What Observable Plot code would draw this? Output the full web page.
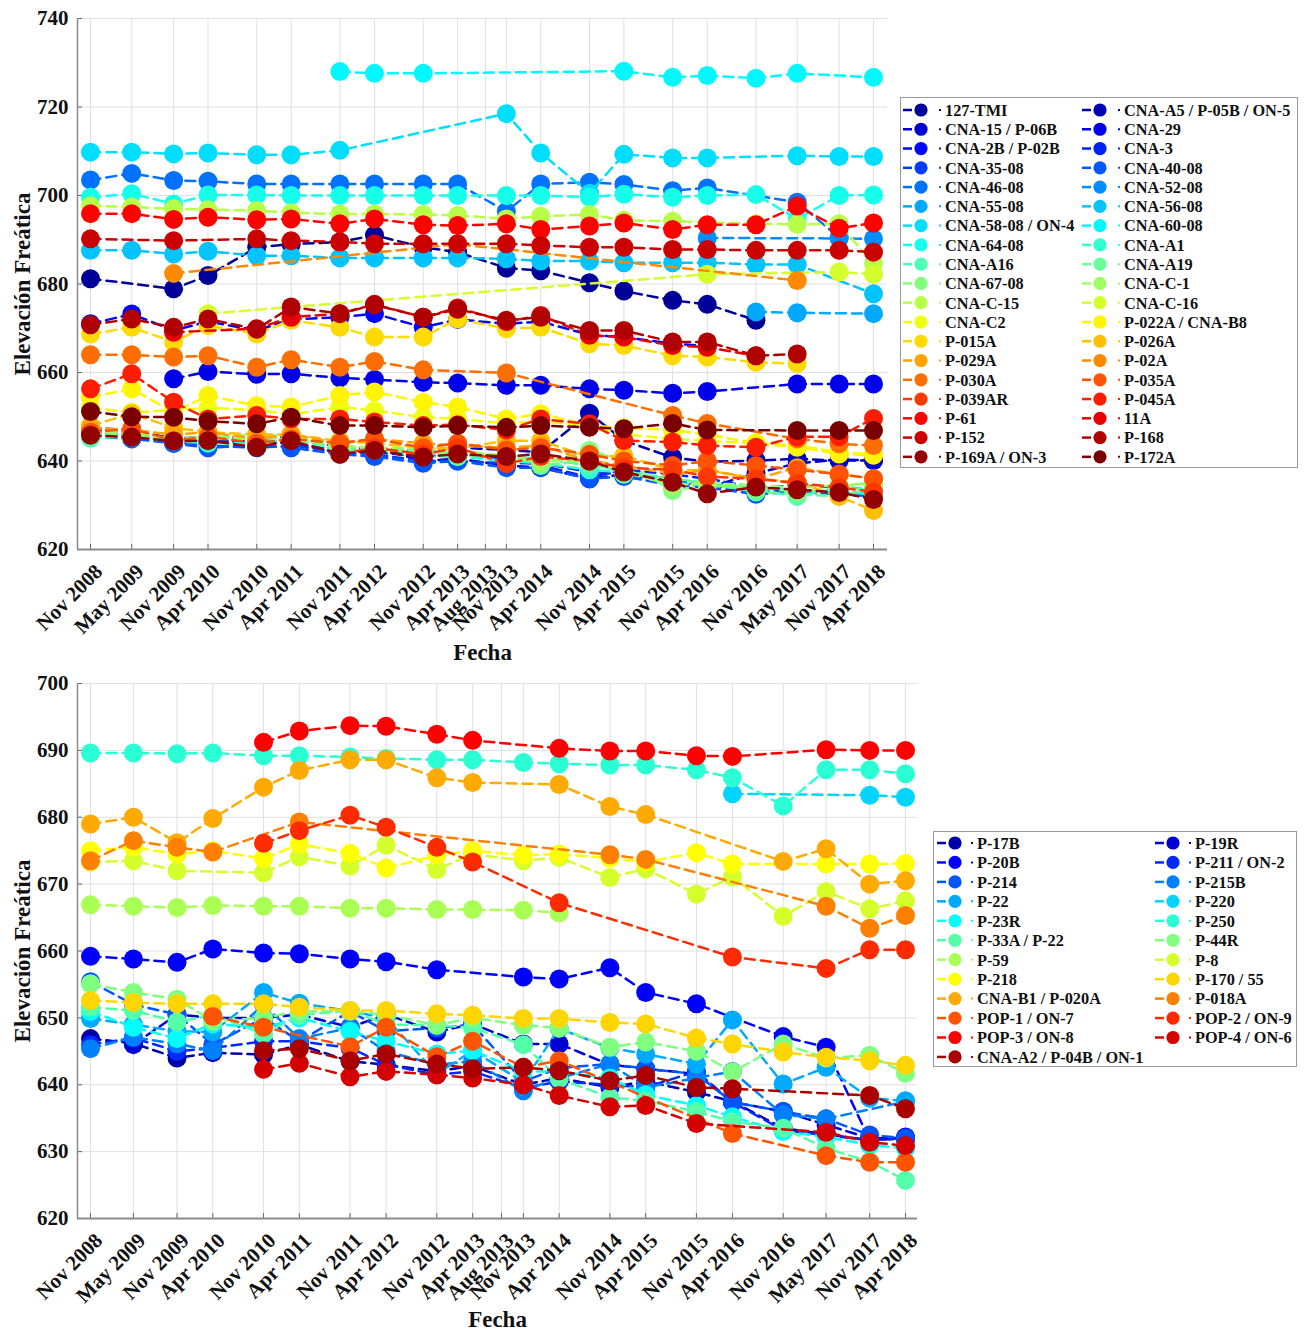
<!DOCTYPE html>
<html><head><meta charset="utf-8">
<script src="https://cdn.jsdelivr.net/npm/d3@7"></script>
<script src="https://cdn.jsdelivr.net/npm/@observablehq/plot@0.6"></script>
<style>
body{margin:0;background:#fff;}
#page{position:relative;width:1305px;height:1333px;overflow:hidden;background:#fff;}
.legend{position:absolute;border:1.5px solid #9a9a9a;background:#fff;box-sizing:border-box;}
.legend svg{display:block;position:absolute;left:-1.5px;top:-1.5px;overflow:visible;}
</style></head><body><div id="page"></div>
<script>
const N = null;
const FONT = "'Liberation Serif','Times New Roman',serif";

// ---------- axes ----------
const dateLabels = ["Nov 2008","May 2009","Nov 2009","Apr 2010","Nov 2010","Apr 2011","Nov 2011","Apr 2012","Nov 2012","Apr 2013","Aug 2013","Nov 2013","Apr 2014","Nov 2014","Apr 2015","Nov 2015","Apr 2016","Nov 2016","May 2017","Nov 2017","Apr 2018"];
const topYTicks = [620,640,660,680,700,720,740];
const bottomYTicks = [620,630,640,650,660,670,680,690,700];

// ---------- top panel ----------
const topNames = ["127-TMI","CNA-A5 / P-05B / ON-5","CNA-15 / P-06B","CNA-29","CNA-2B / P-02B","CNA-3","CNA-35-08","CNA-40-08","CNA-46-08","CNA-52-08","CNA-55-08","CNA-56-08","CNA-58-08 / ON-4","CNA-60-08","CNA-64-08","CNA-A1","CNA-A16","CNA-A19","CNA-67-08","CNA-C-1","CNA-C-15","CNA-C-16","CNA-C2","P-022A / CNA-B8","P-015A","P-026A","P-029A","P-02A","P-030A","P-035A","P-039AR","P-045A","P-61","11A","P-152","P-168","P-169A / ON-3","P-172A"];
const t127TMI   = [681.2,N,678.9,681.9,688.3,689.0,689.5,691.0,688.3,687.2,N,683.6,683.0,680.3,678.4,676.3,675.4,671.8,N,N,N];
const tCNAA5    = [647.5,647.0,645.0,645.5,645.0,645.5,643.0,643.0,642.0,643.0,N,642.5,642.0,650.8,644.6,640.8,639.8,640.1,640.5,640.1,640.1];
const tCNA15    = [647.0,646.5,644.5,644.5,644.5,644.0,642.0,643.0,640.0,640.5,N,639.0,638.5,636.0,637.0,636.0,634.0,637.2,639.5,640.3,640.2];
const tCNA29    = [N,N,658.6,660.2,659.6,659.7,658.8,658.4,657.8,657.6,N,657.1,657.1,656.3,656.0,655.3,655.7,N,657.4,657.4,657.4];
const tCNA2B    = [671.0,673.2,669.5,671.5,669.5,672.0,672.5,673.3,670.2,672.0,N,671.0,671.5,668.5,668.0,666.5,666.0,N,N,N,N];
const tCNA3     = [646.5,646.0,644.0,644.0,644.5,644.0,642.5,642.0,641.0,641.5,N,640.5,639.0,636.3,638.0,637.0,636.0,634.0,634.5,634.0,633.5];
const tCNA35    = [646.0,645.5,644.5,643.5,643.0,643.5,642.0,641.5,640.0,640.0,N,639.5,639.5,637.5,637.0,635.0,634.5,633.0,633.5,633.0,632.5];
const tCNA40    = [645.5,645.0,644.0,643.0,643.5,643.0,641.5,641.0,639.5,640.0,N,638.5,638.5,636.0,636.5,634.5,634.0,632.5,633.0,632.5,632.0];
const tCNA46    = [703.5,705.0,703.4,703.2,702.6,702.6,702.6,702.6,702.6,702.6,N,696.4,702.6,703.0,702.5,701.1,701.7,N,698.5,690.5,N];
const tCNA52    = [N,N,N,N,N,N,N,N,N,N,N,N,N,N,N,N,690.4,N,N,690.3,690.2];
const tCNA55    = [N,N,N,N,N,N,N,N,N,N,N,N,N,N,N,N,N,673.7,673.5,N,673.3];
const tCNA56    = [687.6,687.6,686.8,687.4,686.4,686.4,685.9,685.9,685.9,685.9,N,685.7,685.2,685.2,684.8,684.8,684.8,684.4,684.4,N,677.8];
const tCNA58    = [709.8,709.8,709.4,709.6,709.2,709.2,710.2,N,N,N,N,718.5,709.6,700.5,709.3,708.5,708.5,N,709.0,708.8,708.8];
const tCNA60    = [N,N,N,N,N,N,728.0,727.6,727.6,N,N,N,N,N,728.1,726.7,727.1,726.5,727.6,N,726.7];
const tCNA64    = [699.6,700.4,698.1,700.1,700.1,700.0,700.0,700.0,700.0,700.0,N,700.0,700.0,699.6,700.3,699.6,700.0,700.2,694.7,700.0,700.1];
const tCNAA1    = [645.2,645.5,644.5,644.0,644.0,645.0,642.5,642.5,641.0,641.0,N,640.0,639.5,638.0,637.5,636.0,635.0,634.0,633.5,633.0,632.5];
const tCNAA16   = [646.0,646.0,645.0,645.0,646.0,645.5,643.0,643.0,642.5,642.0,N,641.0,640.5,639.0,638.0,635.0,634.5,633.5,632.0,634.0,633.5];
const tCNAA19   = [645.5,645.5,644.8,645.5,645.0,646.0,642.0,642.5,642.0,641.0,N,641.5,639.0,640.0,637.0,636.0,635.0,633.0,632.5,632.0,634.0];
const tCNA67    = [646.0,646.0,645.0,645.5,645.5,645.0,643.0,643.0,642.0,642.0,N,641.2,639.4,642.4,640.0,633.3,634.5,634.0,633.0,634.0,635.2];
const tCNAC1    = [646.5,646.5,645.0,645.0,645.0,646.0,643.5,643.0,643.0,642.5,N,641.0,640.0,640.0,637.5,634.5,635.0,634.5,634.0,634.5,635.0];
const tCNAC15   = [697.7,697.4,697.0,696.8,696.6,696.1,695.8,695.8,695.7,695.5,N,694.7,695.3,695.7,694.4,694.2,N,693.6,693.5,693.6,684.6];
const tCNAC16   = [N,N,N,673.3,N,N,N,N,N,N,N,N,N,N,N,N,682.2,N,N,682.7,682.2];
const tCNAC2    = [652.0,651.0,651.5,652.0,651.5,650.5,652.2,651.4,649.9,649.5,N,648.5,649.0,648.0,646.0,645.0,644.5,644.0,643.5,642.0,641.5];
const tP022A    = [654.4,656.3,651.0,654.8,652.5,652.2,654.8,655.6,653.3,652.2,N,649.5,650.7,648.0,647.5,647.0,646.0,644.0,643.1,641.6,641.3];
const tP015A    = [668.7,670.2,666.9,670.6,668.7,671.8,670.2,668.0,668.0,672.1,N,669.9,670.2,666.5,666.1,663.8,663.5,662.3,662.0,N,N];
const tP026A    = [648.0,650.7,647.5,646.5,646.0,646.0,644.5,644.0,643.0,642.8,N,644.6,644.6,640.9,641.2,637.9,637.9,636.0,635.2,632.0,628.8];
const tP029A    = [647.5,647.0,646.0,646.5,645.0,646.0,644.0,645.0,644.0,643.5,N,643.0,643.5,640.0,639.0,637.0,638.0,636.0,638.5,637.0,636.0];
const tP02A     = [N,N,682.4,N,N,N,N,N,N,689.0,N,N,N,N,N,N,N,N,680.8,N,N];
const tP030A    = [664.0,664.0,663.5,663.8,661.2,662.9,661.2,662.5,660.6,N,N,659.9,N,N,N,650.3,648.5,N,645.0,643.9,643.5];
const tP035A    = [646.5,647.3,644.6,645.5,644.0,645.0,644.0,645.0,643.0,644.0,N,642.5,643.0,641.5,640.0,639.0,640.0,639.0,638.0,637.0,636.0];
const tP039AR   = [N,N,N,N,N,N,641.5,643.0,641.5,643.0,N,639.4,641.0,640.0,638.5,638.0,636.5,636.0,635.0,634.0,633.0];
const tP045A    = [656.3,659.7,653.3,649.5,650.3,649.5,649.5,648.8,648.0,648.2,N,647.0,649.5,648.4,644.6,644.3,643.5,643.1,645.5,645.5,649.6];
const tP61      = [695.9,695.9,694.6,695.1,694.5,694.7,693.6,694.7,693.4,693.2,N,693.6,692.3,693.1,693.8,692.3,693.4,693.4,697.6,692.6,693.8];
const t11A      = [N,N,669.1,N,669.9,672.5,673.3,675.4,672.5,674.6,N,671.5,672.9,668.4,668.0,666.1,665.7,663.8,N,N,N];
const tP152     = [690.2,N,689.8,N,690.2,689.8,689.5,689.1,689.1,689.1,N,689.1,688.7,688.3,688.3,687.8,687.8,687.6,687.6,687.6,687.2];
const tP168     = [670.8,672.1,670.2,672.1,669.8,674.8,673.3,675.3,672.5,674.3,N,671.8,672.5,669.5,669.5,666.9,666.9,663.8,664.2,N,N];
const tP169A    = [645.8,645.4,644.5,644.6,643.1,644.6,641.6,642.4,640.9,641.6,N,641.0,641.6,640.0,637.5,635.2,632.6,634.1,633.5,632.9,631.3];
const tP172A    = [651.2,650.0,649.9,649.0,648.4,649.9,648.0,648.0,647.6,648.0,N,647.6,648.0,647.6,647.3,648.5,647.0,N,646.9,646.9,646.9];

// ---------- bottom panel ----------
const bottomNames = ["P-17B","P-19R","P-20B","P-211 / ON-2","P-214","P-215B","P-22","P-220","P-23R","P-250","P-33A / P-22","P-44R","P-59","P-8","P-218","P-170 / 55","CNA-B1 / P-020A","P-018A","POP-1 / ON-7","POP-2 / ON-9","POP-3 / ON-8","POP-4 / ON-6","CNA-A2 / P-04B / ON-1"];
const bP17B   = [646.9,646.2,644.0,644.8,644.5,646.0,643.5,643.0,642.0,642.8,N,640.0,641.0,639.6,640.5,638.9,637.5,633.5,632.6,631.7,632.0];
const bP19R   = [N,646.0,650.5,650.0,650.0,650.5,648.6,650.5,647.9,649.1,N,646.1,646.1,643.0,642.4,641.6,637.4,636.0,634.0,632.0,632.0];
const bP20B   = [659.2,658.8,658.3,660.3,659.7,659.6,658.8,658.4,657.2,N,N,656.1,655.8,657.5,653.8,652.1,N,647.2,645.6,631.7,632.2];
const bP211   = [646.0,647.0,645.0,645.5,646.5,646.5,645.5,643.0,641.5,642.0,N,639.5,640.5,640.0,639.6,642.0,637.4,633.2,N,631.7,632.0];
const bP214   = [655.4,652.0,650.5,646.0,650.0,646.5,651.0,648.0,648.5,649.0,N,640.5,642.5,643.1,642.4,641.6,637.4,636.0,634.9,632.5,632.0];
const bP215B  = [645.4,647.1,646.1,645.1,652.0,646.9,648.5,645.0,643.0,643.5,N,639.1,641.0,643.1,639.6,641.0,642.0,635.5,634.9,N,637.5];
const bP22    = [649.9,649.0,648.0,647.9,653.8,652.2,651.0,650.0,641.6,645.1,N,640.4,648.4,645.5,644.6,643.1,649.7,640.1,642.6,638.0,637.6];
const bP220   = [N,N,N,N,N,N,N,N,N,N,N,N,N,N,N,N,683.5,N,N,683.3,683.0];
const bP23R   = [651.0,648.6,646.9,649.1,648.5,650.0,648.0,646.5,644.6,645.1,N,642.0,642.0,641.0,638.5,636.9,635.2,633.0,632.2,631.0,630.5];
const bP250   = [689.6,689.6,689.5,689.6,689.2,689.2,689.0,688.8,688.6,688.6,N,688.2,688.0,687.8,687.8,687.1,685.9,681.7,687.1,687.1,686.5];
const bP33A   = [651.6,651.1,649.4,650.4,647.6,650.4,651.1,649.0,648.9,648.5,N,646.0,640.9,638.1,637.6,636.0,634.5,633.5,630.5,628.5,625.7];
const bP44R   = [655.1,653.8,652.8,649.5,650.0,651.0,651.0,650.5,648.9,650.0,N,648.9,648.5,645.6,646.4,645.0,641.9,646.1,644.0,644.4,641.7];
const bP59    = [666.9,666.7,666.5,666.8,666.7,666.7,666.4,666.4,666.2,666.2,N,666.1,665.7,N,N,N,N,N,N,N,N];
const bP8     = [673.3,673.5,672.0,N,671.7,674.1,672.7,675.8,672.2,674.5,N,673.5,674.0,671.0,672.3,668.5,671.1,665.2,668.9,666.3,667.5];
const bP218   = [675.0,675.5,674.5,675.0,673.8,676.0,674.6,672.4,674.3,675.0,N,674.3,674.5,673.9,673.3,674.7,673.0,N,673.0,673.0,673.1];
const bP170   = [652.6,652.3,652.1,652.1,652.1,651.6,651.1,651.1,650.6,650.4,N,649.9,649.9,649.3,649.1,647.0,646.1,644.9,644.1,643.6,642.9];
const bCNAB1  = [679.0,680.0,676.2,679.8,684.5,687.0,688.6,688.6,685.9,685.2,N,N,684.9,681.6,680.4,N,N,673.4,675.3,670.0,670.5];
const bP018A  = [673.5,676.5,675.5,674.8,N,679.3,N,N,N,N,N,N,N,674.4,673.7,N,N,N,666.7,663.4,665.3];
const bPOP1   = [N,N,N,650.2,648.6,N,645.7,648.6,644.2,646.5,N,642.6,643.6,N,N,N,632.7,N,629.4,628.4,628.4];
const bPOP2   = [N,N,N,N,676.1,678.0,680.3,678.5,675.5,673.3,N,N,667.2,N,N,N,659.1,N,657.4,660.2,660.2];
const bPOP3   = [N,N,N,N,691.2,692.9,693.7,693.6,692.4,691.5,N,N,690.3,689.9,689.9,689.2,689.1,N,690.1,690.0,690.0];
const bPOP4   = [N,N,N,N,642.3,643.2,641.2,642.0,641.5,641.0,N,640.0,638.4,636.7,636.9,634.2,N,N,632.9,631.4,630.9];
const bCNAA2  = [N,N,N,N,645.1,645.4,643.6,644.6,643.1,642.4,N,642.6,642.1,640.6,641.4,639.6,639.4,N,N,638.4,636.4];

const topValues = [t127TMI,tCNAA5,tCNA15,tCNA29,tCNA2B,tCNA3,tCNA35,tCNA40,tCNA46,tCNA52,tCNA55,tCNA56,tCNA58,tCNA60,tCNA64,tCNAA1,tCNAA16,tCNAA19,tCNA67,tCNAC1,tCNAC15,tCNAC16,tCNAC2,tP022A,tP015A,tP026A,tP029A,tP02A,tP030A,tP035A,tP039AR,tP045A,tP61,t11A,tP152,tP168,tP169A,tP172A];
const bottomValues = [bP17B,bP19R,bP20B,bP211,bP214,bP215B,bP22,bP220,bP23R,bP250,bP33A,bP44R,bP59,bP8,bP218,bP170,bCNAB1,bP018A,bPOP1,bPOP2,bPOP3,bPOP4,bCNAA2];

// ---------- helpers ----------
const parseDate = d3.utcParse("%b %Y");
const tickDates = dateLabels.map(parseDate);

function jet(t) {
  const c = v => Math.max(0, Math.min(1, v));
  const r = c(1.5 - Math.abs(4*t - 3)), g = c(1.5 - Math.abs(4*t - 2)), b = c(1.5 - Math.abs(4*t - 1));
  return `rgb(${Math.round(r*255)},${Math.round(g*255)},${Math.round(b*255)})`;
}
function palette(n, t0, dt) { return d3.range(n).map(i => jet(t0 + dt * i)); }
const topColors = palette(topNames.length, 0.025, 0.0265);
const bottomColors = palette(bottomNames.length, 1 / 24, 1 / 24);

function chart({names, values, colors, yTicks, width, height, marginTop, marginBottom, padL, padR, fechaDy}) {
  const marginLeft = 77, marginRight = 13;
  const first = +tickDates[0], last = +tickDates[tickDates.length - 1];
  const plotW = width - marginLeft - marginRight;
  const msPerPx = (last - first) / (plotW - padL - padR);
  const xDomain = [new Date(first - padL * msPerPx), new Date(last + padR * msPerPx)];
  const yDomain = [yTicks[0], yTicks[yTicks.length - 1]];
  const plotH = height - marginTop - marginBottom;
  const uPerPx = (yDomain[1] - yDomain[0]) / plotH;
  const txt = {fontFamily: FONT, fontWeight: "bold", fill: "#111"};
  const marks = [
    Plot.ruleX(tickDates, {stroke: "#e0e0e0", strokeWidth: 1}),
    Plot.ruleY(yTicks, {stroke: "#e0e0e0", strokeWidth: 1}),
    Plot.ruleX(tickDates, {y1: yDomain[0], y2: yDomain[0] + 5 * uPerPx, stroke: "#666", strokeWidth: 1}),
    Plot.ruleY(yTicks, {x1: xDomain[0], x2: new Date(+xDomain[0] + 5 * msPerPx), stroke: "#666", strokeWidth: 1}),
    Plot.ruleX([xDomain[0]], {stroke: "#8a8a8a", strokeWidth: 1.5}),
    Plot.ruleY([yDomain[0]], {stroke: "#8a8a8a", strokeWidth: 2})
  ];
  names.forEach((name, k) => {
    const rows = values[k].map((v, i) => ({date: tickDates[i], value: v, name})).filter(d => d.value != null);
    marks.push(Plot.line(rows, {x: "date", y: "value", stroke: colors[k], strokeWidth: 2.5, strokeDasharray: "10,6"}));
    marks.push(Plot.dot(rows, {x: "date", y: "value", r: 9.5, fill: colors[k]}));
  });
  marks.push(Plot.text(yTicks, {y: d => d, text: d => String(d), frameAnchor: "left", textAnchor: "end", lineAnchor: "middle", dx: -9, fontSize: 21, ...txt}));
  marks.push(Plot.text(tickDates, {x: d => d, text: (d, i) => dateLabels[i], frameAnchor: "bottom", textAnchor: "end", lineAnchor: "middle", rotate: -45, dx: 8.5, dy: 18.5, fontSize: 21, ...txt}));
  marks.push(Plot.text(["Fecha"], {text: d => d, frameAnchor: "bottom", lineAnchor: "middle", dy: fechaDy, fontSize: 23, ...txt}));
  marks.push(Plot.text(["Elevación Freática"], {text: d => d, frameAnchor: "left", textAnchor: "middle", lineAnchor: "middle", rotate: -90, dx: -55, fontSize: 23, ...txt}));
  return Plot.plot({
    width, height, marginLeft, marginRight, marginTop, marginBottom,
    x: {type: "utc", domain: xDomain, axis: null},
    y: {domain: yDomain, axis: null},
    style: {fontFamily: FONT, background: "white", overflow: "visible"},
    marks
  });
}

function legend(names, colors, {left, top, width, height, y0, rowH, colStep, lineX, dotX, circleX, textX}) {
  const div = document.createElement("div");
  div.className = "legend";
  Object.assign(div.style, {left: left + "px", top: top + "px", width: width + "px", height: height + "px"});
  const svg = d3.create("svg").attr("width", width).attr("height", height);
  names.forEach((name, i) => {
    const col = i % 2, row = Math.floor(i / 2);
    const g = svg.append("g").attr("transform", `translate(${col * colStep},${y0 + row * rowH})`);
    g.append("line").attr("x1", lineX).attr("x2", lineX + 9).attr("stroke", colors[i]).attr("stroke-width", 2.5);
    g.append("line").attr("x1", dotX).attr("x2", dotX + 2).attr("stroke", colors[i]).attr("stroke-width", 2);
    g.append("circle").attr("cx", circleX).attr("r", 6.6).attr("fill", colors[i]);
    g.append("text").attr("x", textX).attr("dy", "0.36em").attr("font-family", FONT).attr("font-weight", "bold").attr("font-size", 16.3).attr("fill", "#111").text(name);
  });
  div.appendChild(svg.node());
  return div;
}

const page = document.getElementById("page");
const svgTop = chart({names: topNames, values: topValues, colors: topColors, yTicks: topYTicks, width: 900, height: 670, marginTop: 18, marginBottom: 121, padL: 13, padR: 14, fechaDy: 103});
Object.assign(svgTop.style, {position: "absolute", left: "0px", top: "0px"});
page.appendChild(svgTop);
const svgBottom = chart({names: bottomNames, values: bottomValues, colors: bottomColors, yTicks: bottomYTicks, width: 930, height: 668, marginTop: 18, marginBottom: 115, padL: 13, padR: 12, fechaDy: 101});
Object.assign(svgBottom.style, {position: "absolute", left: "0px", top: "665px"});
page.appendChild(svgBottom);

page.appendChild(legend(topNames, topColors, {left: 900, top: 97, width: 398, height: 371, y0: 13, rowH: 19.27, colStep: 179, lineX: 3, dotX: 39, circleX: 21, textX: 45}));
page.appendChild(legend(bottomNames, bottomColors, {left: 933, top: 831, width: 364, height: 236, y0: 12, rowH: 19.45, colStep: 218, lineX: 4, dotX: 38, circleX: 22, textX: 44}));
</script>
</body></html>
